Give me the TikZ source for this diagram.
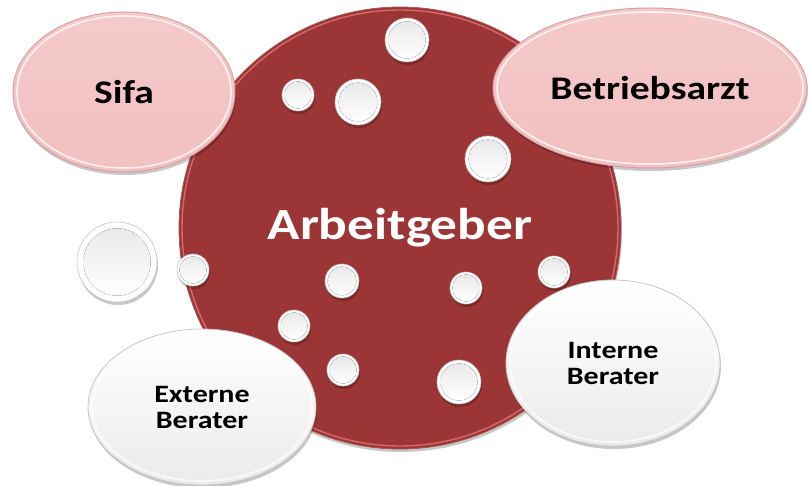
\documentclass[tikz,border=0pt]{standalone}
\usepackage{fontspec}
\newfontfamily\lbl[FakeStretch=1.2]{Carlito}
\usetikzlibrary{shapes.geometric,shadows}
\definecolor{agred}{HTML}{9C3535}
\definecolor{agrim}{HTML}{D46A6A}
\definecolor{pinkfill}{HTML}{F2C0C1}
\definecolor{pinkline}{HTML}{D9A0A2}
\tikzset{
  soft shadow/.style={drop shadow={shadow xshift=1pt, shadow yshift=-3pt, fill=black, opacity=0.22}},
  bigcircle/.style={circle, inner sep=0pt, fill=agred, draw=agred!85!white, line width=0.8pt,
    minimum size=442pt, text=white, font=\lbl\bfseries\fontsize{44.5}{48}\selectfont, soft shadow},
  pinkoval/.style={ellipse, inner sep=0pt, top color=pinkfill!85!white, bottom color=pinkfill,
    draw=pinkline, line width=1pt, text=black, font=\lbl\bfseries\fontsize{33}{36}\selectfont, soft shadow},
  whiteoval/.style={ellipse, inner sep=0pt, top color=white, bottom color=gray!16,
    draw=gray!45, line width=0.8pt, text=black, align=center,
    font=\lbl\bfseries\fontsize{25}{26}\selectfont, soft shadow},
  bubble/.style={circle, inner sep=0pt, fill=white, draw=gray!45, line width=0.6pt, soft shadow},
  bubblecore/.style={top color=gray!17, bottom color=white},
  ovalring/.style={draw=white, line width=1.6pt, opacity=0.75},
}
\begin{document}
\begin{tikzpicture}[x=1pt, y=-1pt]
\useasboundingbox (0,0) rectangle (810,486);
% central circle
\node[bigcircle] (ag) at (400,228) {Arbeitgeber};
\draw[agrim, line width=1.4pt] (ag.center) circle [radius=218pt];
% pink ovals
\node[pinkoval, minimum width=222pt, minimum height=160pt] (sifa) at (124,92) {Sifa};
\draw[ovalring] (sifa.center) ellipse [x radius=107pt, y radius=76pt];
\node[pinkoval, minimum width=314pt, minimum height=160pt] (arzt) at (650,88) {Betriebsarzt};
\draw[ovalring] (arzt.center) ellipse [x radius=153pt, y radius=76pt];
% white ovals
\node[whiteoval, minimum width=228pt, minimum height=156pt] (ext) at (202,407) {Externe\\Berater};
\draw[ovalring] (ext.center) ellipse [x radius=110pt, y radius=74pt];
\node[whiteoval, minimum width=214pt, minimum height=166pt] (int) at (613,363) {Interne\\Berater};
\draw[ovalring] (int.center) ellipse [x radius=103pt, y radius=79pt];
% bubbles
\foreach \n/\x/\y/\r in {b1/407/40/22, b2/298/95/16, b3/358/102/23, b4/488/159/23,
    b5/117/262/40, b6/193/270/16, b7/342/281/17, b8/294/326/16, b9/343/370/16,
    b10/466/288/16, b11/554/272/16, b12/459/382/22} {
  \node[bubble, minimum size={2*\r*1pt}] (\n) at (\x,\y) {};
  \fill[bubblecore] (\n.center) circle [radius={0.84*\r*1pt}];
}
\end{tikzpicture}
\end{document}
